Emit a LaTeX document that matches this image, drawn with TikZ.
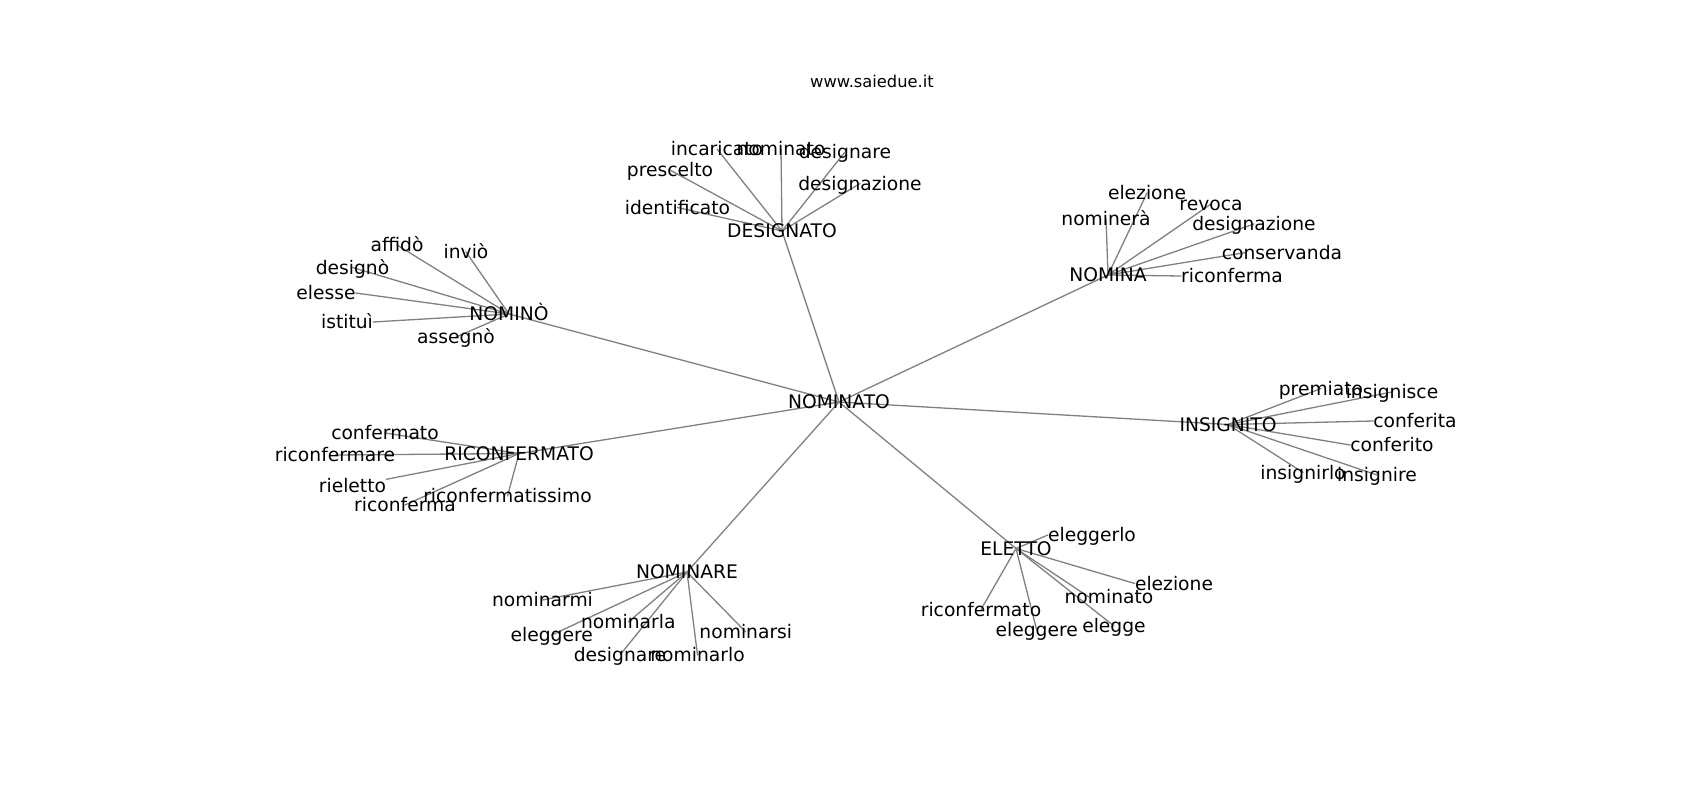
\documentclass[tikz,border=0pt]{standalone}
\usepackage{fontspec}
\setmainfont{DejaVu Sans}
\usetikzlibrary{calc,backgrounds}
\tikzset{
  edge/.style={draw=gray, line width=1.3pt, line cap=round},
  word/.style={text=black, font=\fontsize{18.7}{22}\selectfont, inner sep=0pt, text height=13pt, text depth=0pt},
  site/.style={text=black, font=\fontsize{16.3}{20}\selectfont, inner sep=0pt},
}

\begin{document}
\begin{tikzpicture}[x=1pt, y=-1pt]
\useasboundingbox (0,0) rectangle (1700,800);
\node[site, anchor=base] (site) at (872,88) {www.saiedue.it};
% hubs
\node[word] (hub) at (839,402) {NOMINATO};
\node[word] (designato) at (782,231) {DESIGNATO};
\node[word] (nomina) at (1108,275) {NOMINA};
\node[word] (nomino) at (509,314) {NOMINÒ};
\node[word] (riconfermato) at (519,453.5) {RICONFERMATO};
\node[word] (insignito) at (1228,424.5) {INSIGNITO};
\node[word] (nominare) at (687,572) {NOMINARE};
\node[word] (eletto) at (1016,548.5) {ELETTO};
% DESIGNATO
\node[word] (des-incaricato) at (717,149) {incaricato};
\node[word] (des-nominato) at (781,149) {nominato};
\node[word] (des-designare) at (845,152) {designare};
\node[word] (des-prescelto) at (670,170) {prescelto};
\node[word] (des-designazione) at (860,183.5) {designazione};
\node[word] (des-identificato) at (677.5,207.5) {identificato};
% NOMINA
\node[word] (nom-elezione) at (1147,193) {elezione};
\node[word] (nom-revoca) at (1211,204) {revoca};
\node[word] (nom-nominera) at (1106,218.5) {nominerà};
\node[word] (nom-designazione) at (1254,224) {designazione};
\node[word] (nom-conservanda) at (1282,252.5) {conservanda};
\node[word] (nom-riconferma) at (1232,276) {riconferma};
% NOMINÒ
\node[word] (nmo-affido) at (397,245) {affidò};
\node[word] (nmo-invio) at (466,252) {inviò};
\node[word] (nmo-designo) at (352.5,267.5) {designò};
\node[word] (nmo-elesse) at (326,293) {elesse};
\node[word] (nmo-istitui) at (347,322) {istituì};
\node[word] (nmo-assegno) at (456,337) {assegnò};
% RICONFERMATO
\node[word] (ric-confermato) at (385,433) {confermato};
\node[word] (ric-riconfermare) at (335,455) {riconfermare};
\node[word] (ric-rieletto) at (352.5,486) {rieletto};
\node[word] (ric-riconferma) at (405,505) {riconferma};
\node[word] (ric-riconfermatissimo) at (507.5,496) {riconfermatissimo};
% INSIGNITO
\node[word] (ins-premiato) at (1321,388.5) {premiato};
\node[word] (ins-insignisce) at (1392,392) {insignisce};
\node[word] (ins-conferita) at (1415,421) {conferita};
\node[word] (ins-conferito) at (1392,445) {conferito};
\node[word] (ins-insignirlo) at (1303,472.5) {insignirlo};
\node[word] (ins-insignire) at (1377,475) {insignire};
% NOMINARE
\node[word] (nre-nominarmi) at (542.5,600) {nominarmi};
\node[word] (nre-nominarla) at (628.3,622) {nominarla};
\node[word] (nre-eleggere) at (551.7,635) {eleggere};
\node[word] (nre-nominarsi) at (745.8,632) {nominarsi};
\node[word] (nre-designare) at (620,655) {designare};
\node[word] (nre-nominarlo) at (697.5,655) {nominarlo};
% ELETTO
\node[word] (ele-eleggerlo) at (1092,535) {eleggerlo};
\node[word] (ele-elezione) at (1174,583.5) {elezione};
\node[word] (ele-nominato) at (1109,597) {nominato};
\node[word] (ele-riconfermato) at (981,609.5) {riconfermato};
\node[word] (ele-eleggere) at (1036.7,630) {eleggere};
\node[word] (ele-elegge) at (1114,626) {elegge};

\begin{scope}[on background layer]
% hub to hubs
\foreach \h in {designato,nomina,nomino,riconfermato,insignito,nominare,eletto}
  \draw[edge] (hub.center) -- (\h.center);
% leaves
\foreach \w in {incaricato,nominato,designare,prescelto,designazione,identificato}
  \draw[edge] (designato.center) -- (des-\w.center);
\foreach \w in {elezione,revoca,nominera,designazione}
  \draw[edge] (nomina.center) -- (nom-\w.center);
\draw[edge] (nomina.center) -- ($(nom-conservanda.west)!0.4!(nom-conservanda.center)$);
\draw[edge] (nomina.center) -- (nom-riconferma.west);
\foreach \w in {affido,invio,designo,assegno}
  \draw[edge] (nomino.center) -- (nmo-\w.center);
\draw[edge] (nomino.center) -- (nmo-elesse.east);
\draw[edge] (nomino.center) -- (nmo-istitui.east);
\foreach \w in {confermato,riconfermare,riconferma,riconfermatissimo}
  \draw[edge] (riconfermato.center) -- (ric-\w.center);
\draw[edge] (riconfermato.center) -- (ric-rieletto.north east);
\foreach \w in {premiato,insignisce,insignirlo,insignire}
  \draw[edge] (insignito.center) -- (ins-\w.center);
\draw[edge] (insignito.center) -- (ins-conferita.west);
\draw[edge] (insignito.center) -- (ins-conferito.west);
\foreach \w in {nominarmi,nominarla,eleggere,nominarsi,designare,nominarlo}
  \draw[edge] (nominare.center) -- (nre-\w.center);
\foreach \w in {riconfermato,eleggere,elegge}
  \draw[edge] (eletto.center) -- (ele-\w.center);
\draw[edge] (eletto.center) -- (ele-eleggerlo.west);
\draw[edge] (eletto.center) -- (ele-elezione.west);
\draw[edge] (eletto.center) -- ($(ele-nominato.west)!0.55!(ele-nominato.center)$);
\end{scope}
\end{tikzpicture}
\end{document}
